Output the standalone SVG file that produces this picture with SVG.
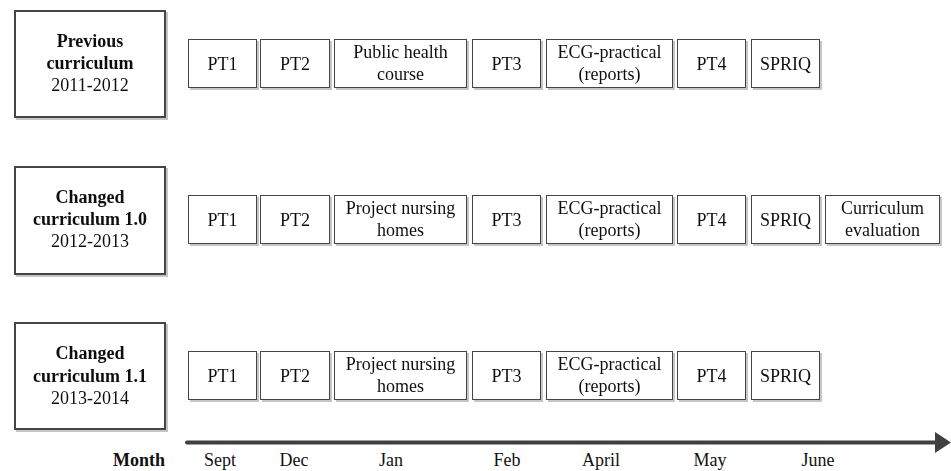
<svg xmlns="http://www.w3.org/2000/svg" width="951" height="471" viewBox="0 0 951 471">
<defs>
<filter id="sh" x="-10%" y="-10%" width="130%" height="140%">
<feDropShadow dx="2" dy="2" stdDeviation="0.7" flood-color="#b8b8b8" flood-opacity="0.8"/>
</filter>
</defs>
<style>
text{font-family:'Liberation Serif','DejaVu Serif',serif;font-size:18px;fill:#111;text-anchor:middle}
.b{font-weight:bold}
.big{fill:#fff;stroke:#444;stroke-width:2}
.box{fill:#fff;stroke:#444;stroke-width:1}
.n{filter:url(#sh)}
</style>
<rect width="951" height="471" fill="#fff"/>

<!-- Row 1 -->
<g id="prev" class="n"><rect class="big" x="15" y="11" width="150" height="106"/><text class="b" x="90" y="47">Previous</text><text class="b" x="90" y="69">curriculum</text><text x="90" y="91">2011-2012</text></g>
<g id="r1-pt1" class="n"><rect class="box" x="188.5" y="39.5" width="68" height="48"/><text x="222.5" y="69.5">PT1</text></g>
<g id="r1-pt2" class="n"><rect class="box" x="260.5" y="39.5" width="69" height="48"/><text x="295" y="69.5">PT2</text></g>
<g id="r1-pub" class="n"><rect class="box" x="334.5" y="39.5" width="132" height="48"/><text x="400.5" y="58">Public health</text><text x="400.5" y="80">course</text></g>
<g id="r1-pt3" class="n"><rect class="box" x="472.5" y="39.5" width="68" height="48"/><text x="506.5" y="69.5">PT3</text></g>
<g id="r1-ecg" class="n"><rect class="box" x="546.5" y="39.5" width="126" height="48"/><text x="609.5" y="58">ECG-practical</text><text x="609.5" y="80">(reports)</text></g>
<g id="r1-pt4" class="n"><rect class="box" x="677.5" y="39.5" width="68" height="48"/><text x="711.5" y="69.5">PT4</text></g>
<g id="r1-spriq" class="n"><rect class="box" x="751.5" y="39.5" width="68" height="48"/><text x="785.5" y="69.5">SPRIQ</text></g>

<!-- Row 2 -->
<g id="ch10" class="n"><rect class="big" x="15" y="167" width="150" height="107"/><text class="b" x="90" y="203">Changed</text><text class="b" x="90" y="225">curriculum 1.0</text><text x="90" y="247">2012-2013</text></g>
<g id="r2-pt1" class="n"><rect class="box" x="188.5" y="195.5" width="68" height="48"/><text x="222.5" y="225.5">PT1</text></g>
<g id="r2-pt2" class="n"><rect class="box" x="260.5" y="195.5" width="69" height="48"/><text x="295" y="225.5">PT2</text></g>
<g id="r2-proj" class="n"><rect class="box" x="334.5" y="195.5" width="132" height="48"/><text x="400.5" y="214">Project nursing</text><text x="400.5" y="236">homes</text></g>
<g id="r2-pt3" class="n"><rect class="box" x="472.5" y="195.5" width="68" height="48"/><text x="506.5" y="225.5">PT3</text></g>
<g id="r2-ecg" class="n"><rect class="box" x="546.5" y="195.5" width="126" height="48"/><text x="609.5" y="214">ECG-practical</text><text x="609.5" y="236">(reports)</text></g>
<g id="r2-pt4" class="n"><rect class="box" x="677.5" y="195.5" width="68" height="48"/><text x="711.5" y="225.5">PT4</text></g>
<g id="r2-spriq" class="n"><rect class="box" x="751.5" y="195.5" width="68" height="48"/><text x="785.5" y="225.5">SPRIQ</text></g>
<g id="r2-eval" class="n"><rect class="box" x="825.5" y="195.5" width="114" height="48"/><text x="882.5" y="214">Curriculum</text><text x="882.5" y="236">evaluation</text></g>

<!-- Row 3 -->
<g id="ch11" class="n"><rect class="big" x="15" y="323" width="150" height="106"/><text class="b" x="90" y="359">Changed</text><text class="b" x="90" y="381.5">curriculum 1.1</text><text x="90" y="404">2013-2014</text></g>
<g id="r3-pt1" class="n"><rect class="box" x="188.5" y="351.5" width="68" height="48"/><text x="222.5" y="381.5">PT1</text></g>
<g id="r3-pt2" class="n"><rect class="box" x="260.5" y="351.5" width="69" height="48"/><text x="295" y="381.5">PT2</text></g>
<g id="r3-proj" class="n"><rect class="box" x="334.5" y="351.5" width="132" height="48"/><text x="400.5" y="370">Project nursing</text><text x="400.5" y="392">homes</text></g>
<g id="r3-pt3" class="n"><rect class="box" x="472.5" y="351.5" width="68" height="48"/><text x="506.5" y="381.5">PT3</text></g>
<g id="r3-ecg" class="n"><rect class="box" x="546.5" y="351.5" width="126" height="48"/><text x="609.5" y="370">ECG-practical</text><text x="609.5" y="392">(reports)</text></g>
<g id="r3-pt4" class="n"><rect class="box" x="677.5" y="351.5" width="68" height="48"/><text x="711.5" y="381.5">PT4</text></g>
<g id="r3-spriq" class="n"><rect class="box" x="751.5" y="351.5" width="68" height="48"/><text x="785.5" y="381.5">SPRIQ</text></g>

<!-- Time axis -->
<g id="connectors">
<line x1="187" y1="442.5" x2="937" y2="442.5" stroke="#404040" stroke-width="4" stroke-linecap="round"/>
<polygon points="935,432 951,442.5 935,453" fill="#404040"/>
</g>

<g id="months">
<text class="b" x="139" y="466">Month</text>
<text x="220" y="466">Sept</text>
<text x="294" y="466">Dec</text>
<text x="391" y="466">Jan</text>
<text x="507" y="466">Feb</text>
<text x="601" y="466">April</text>
<text x="710" y="466">May</text>
<text x="818" y="466">June</text>
</g>
</svg>
